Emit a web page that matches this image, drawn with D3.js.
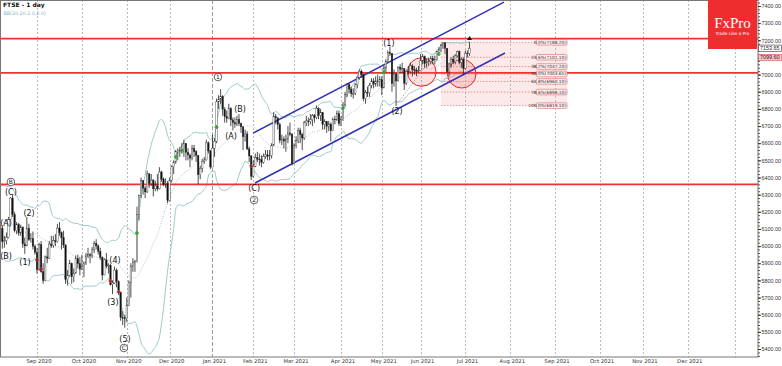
<!DOCTYPE html>
<html>
<head>
<meta charset="utf-8">
<script src="https://cdn.jsdelivr.net/npm/d3@7/dist/d3.min.js"></script>
<style>
body { margin: 0; background: #fff; }
svg { display: block; font-family: "DejaVu Sans", sans-serif; }
</style>
</head>
<body>
<div id="chart"></div>
<script>
// daily bars: [day, open, high, low, close]
var jul2020 = [
  [8,6190,6215,6140,6156],[9,6156,6170,6040,6050],[10,6050,6105,6030,6095],[13,6095,6190,6090,6176],
  [14,6176,6185,6110,6179],[15,6179,6300,6175,6292],[16,6292,6295,6220,6250],[17,6250,6300,6240,6290],
  [20,6290,6295,6230,6261],[21,6261,6320,6255,6269],[22,6269,6275,6190,6208],[23,6208,6240,6185,6211],
  [24,6211,6215,6100,6124],[27,6124,6140,6080,6104],[28,6104,6150,6090,6129],[29,6129,6150,6100,6132],
  [30,6132,6135,5970,5990],[31,5990,6010,5880,5898]
];
var aug2020 = [
  [3,5898,6050,5895,6032],[4,6032,6060,6000,6036],
  [5,6036,6135,6020,6104],[6,6104,6120,5985,6026],[7,6026,6060,5990,6032],[10,6032,6080,6010,6050],
  [11,6050,6170,6045,6154],[12,6154,6285,6150,6280],[13,6280,6300,6170,6185],[14,6185,6200,6080,6090],
  [17,6090,6140,6070,6127],[18,6127,6135,6060,6076],[19,6076,6125,6060,6111],[20,6111,6115,5990,6013],
  [21,6013,6050,5955,6001],[24,6001,6170,6000,6104],[25,6104,6130,6030,6037],[26,6037,6075,6020,6045],
  [27,6045,6085,5980,5999],[28,5999,6010,5950,5963]
];
var sep2020 = [
  [1,5963,5990,5840,5862],[2,5862,6020,5855,6009],[3,6009,6030,5845,5851],[4,5851,5900,5780,5799],
  [7,5799,5945,5795,5937],[8,5937,5990,5900,5930],[9,5930,6030,5925,6012],[10,6012,6060,5990,6003],
  [11,6003,6060,5990,6032],[14,6032,6070,6000,6026],[15,6026,6130,6020,6105],[16,6105,6140,6060,6078],
  [17,6078,6085,5980,6050],[18,6050,6090,5990,6007],[21,6007,6010,5780,5804],[22,5804,5860,5770,5829],
  [23,5829,5920,5820,5899],[24,5899,5905,5780,5822],[25,5822,5870,5790,5842],[28,5842,5945,5840,5927],
  [29,5927,5950,5870,5897],[30,5897,5935,5830,5866]
];
var oct2020 = [
  [1,5866,5950,5860,5880],[2,5880,5910,5820,5902],[5,5902,5960,5890,5942],[6,5942,5990,5930,5950],
  [7,5950,5960,5900,5946],[8,5946,5995,5930,5978],[9,5978,6030,5960,6016],[12,6016,6040,5980,6001],
  [13,6001,6010,5950,5969],[14,5969,5990,5920,5935],[15,5935,5940,5800,5832],[16,5832,5930,5830,5920],
  [19,5920,5960,5870,5884],[20,5884,5900,5840,5889],[21,5889,5895,5770,5776],[22,5776,5800,5720,5785],
  [23,5785,5880,5780,5860],[26,5860,5870,5760,5792],[27,5792,5800,5715,5729],[28,5729,5735,5565,5583],
  [29,5583,5620,5540,5582],[30,5582,5600,5525,5577]
];
var nov2020 = [
  [2,5577,5700,5560,5654],[3,5654,5800,5650,5786],[4,5786,5900,5700,5883],[5,5883,5930,5850,5906],
  [6,5906,5920,5850,5910],[9,5910,6230,5905,6186],[10,6186,6300,6150,6296],[11,6296,6400,6280,6382],
  [12,6382,6385,6300,6338],[13,6338,6350,6280,6316],[16,6316,6440,6310,6421],[17,6421,6425,6340,6365],
  [18,6365,6420,6350,6385],[19,6385,6390,6290,6334],[20,6334,6380,6320,6351],[23,6351,6420,6320,6334],
  [24,6334,6460,6330,6432],[25,6432,6440,6375,6391],[26,6391,6400,6350,6362],[27,6362,6395,6340,6367],
  [30,6367,6380,6250,6266]
];
var dec2020 = [
  [1,6266,6400,6260,6384],[2,6384,6470,6370,6463],[3,6463,6500,6420,6490],[4,6490,6560,6480,6550],
  [7,6550,6570,6500,6555],[8,6555,6580,6520,6559],[9,6559,6600,6540,6564],[10,6564,6620,6520,6599],
  [11,6599,6600,6500,6547],[14,6547,6570,6500,6531],[15,6531,6540,6460,6513],[16,6513,6590,6500,6570],
  [17,6570,6590,6520,6550],[18,6550,6560,6490,6529],[21,6529,6530,6360,6416],[22,6416,6470,6390,6454],
  [23,6454,6510,6430,6495],[24,6495,6520,6480,6502],[29,6502,6620,6500,6602],[30,6602,6610,6540,6555],
  [31,6555,6560,6450,6461]
];
var jan2021 = [
  [4,6461,6650,6460,6571],[5,6571,6630,6520,6612],[6,6612,6860,6600,6841],[7,6841,6880,6800,6857],
  [8,6857,6915,6830,6873],[11,6873,6880,6760,6798],[12,6798,6810,6720,6754],[13,6754,6790,6720,6745],
  [14,6745,6830,6740,6802],[15,6802,6810,6700,6736],[18,6736,6750,6675,6720],[19,6720,6750,6690,6712],
  [20,6712,6760,6700,6740],[21,6740,6770,6700,6715],[22,6715,6720,6660,6695],[25,6695,6700,6560,6638],
  [26,6638,6680,6610,6654],[27,6654,6670,6560,6567],[28,6567,6580,6490,6526],[29,6526,6530,6385,6407]
];
var feb2021 = [
  [1,6407,6500,6400,6466],[2,6466,6540,6460,6516],[3,6516,6550,6490,6507],[4,6507,6540,6470,6504],
  [5,6504,6530,6460,6489],[8,6489,6540,6480,6523],[9,6523,6560,6510,6532],[10,6532,6560,6500,6524],
  [11,6524,6560,6500,6528],[12,6528,6600,6510,6589],[15,6589,6780,6585,6756],[16,6756,6770,6710,6748],
  [17,6748,6750,6680,6710],[18,6710,6720,6600,6617],[19,6617,6650,6590,6624],[22,6624,6640,6570,6612],
  [23,6612,6650,6550,6625],[24,6625,6700,6600,6659],[25,6659,6720,6640,6652],[26,6652,6660,6470,6483]
];
var mar2021 = [
  [1,6483,6600,6480,6588],[2,6588,6640,6570,6614],[3,6614,6690,6600,6675],[4,6675,6690,6600,6651],
  [5,6651,6660,6560,6630],[8,6630,6730,6620,6719],[9,6719,6760,6700,6730],[10,6730,6750,6700,6725],
  [11,6725,6770,6710,6737],[12,6737,6770,6700,6761],[15,6761,6770,6720,6749],[16,6749,6820,6740,6803],
  [17,6803,6810,6740,6762],[18,6762,6800,6730,6779],[19,6779,6780,6680,6709],[22,6709,6740,6680,6726],
  [23,6726,6730,6660,6699],[24,6699,6730,6670,6712],[25,6712,6720,6610,6674],[26,6674,6750,6670,6740],
  [29,6740,6760,6710,6736],[30,6736,6790,6730,6772],[31,6772,6790,6700,6714]
];
var apr2021 = [
  [1,6714,6760,6700,6737],[6,6737,6840,6730,6823],[7,6823,6900,6810,6886],[8,6886,6950,6870,6942],
  [9,6942,6950,6890,6916],[12,6916,6930,6870,6890],[13,6890,6920,6860,6890],[14,6890,6950,6880,6940],
  [15,6940,6990,6920,6983],[16,6983,7030,6970,7020],[19,7020,7030,6980,7000],[20,7000,7005,6845,6860],
  [21,6860,6910,6830,6896],[22,6896,6930,6870,6895],[23,6895,6950,6870,6938],[26,6938,6980,6920,6963],
  [27,6963,6980,6920,6945],[28,6945,6990,6930,6963],[29,6963,7000,6930,6961],[30,6961,6990,6930,6970]
];
var may2021 = [
  [4,6970,6990,6880,6923],[5,6923,7050,6920,7039],[6,7039,7090,7010,7076],[7,7076,7140,7070,7130],
  [10,7130,7165,7110,7123],[11,7123,7125,6900,6948],[12,6948,7030,6930,7004],[13,7004,7010,6819,6963],
  [14,6963,7050,6960,7043],[17,7043,7060,7010,7032],[18,7032,7070,7010,7034],[19,7034,7040,6910,6950],
  [20,6950,7030,6940,7019],[21,7019,7050,7000,7018],[24,7018,7070,7010,7051],[25,7051,7060,6990,7029],
  [26,7029,7050,7000,7026],[27,7026,7040,6990,7020],[28,7020,7050,7010,7023]
];
var jun2021 = [
  [1,7023,7120,7020,7080],[2,7080,7120,7060,7108],[3,7108,7110,7040,7064],[4,7064,7090,7040,7069],
  [7,7069,7100,7050,7077],[8,7077,7110,7060,7095],[9,7095,7110,7060,7081],[10,7081,7110,7060,7088],
  [11,7088,7140,7080,7134],[14,7134,7160,7110,7147],[15,7147,7180,7130,7172],[16,7172,7188,7150,7185],
  [17,7185,7190,7120,7153],[18,7153,7155,7010,7017],[21,7017,7070,6990,7062],[22,7062,7100,7040,7090],
  [23,7090,7110,7060,7074],[24,7074,7120,7060,7109],[25,7109,7140,7100,7136],[28,7136,7140,7060,7072],
  [29,7072,7100,7040,7088],[30,7088,7100,7000,7037]
];
var jul2021 = [
  [1,7037,7140,7030,7125],[2,7125,7140,7100,7123],[5,7123,7190,7110,7153.65]
];

// first bar of each month on the time axis (trading-day index, Aug 5 2020 = 0)
var monthLabels = ["Sep 2020","Oct 2020","Nov 2020","Dec 2020","Jan 2021","Feb 2021","Mar 2021","Apr 2021",
  "May 2021","Jun 2021","Jul 2021","Aug 2021","Sep 2021","Oct 2021","Nov 2021","Dec 2021",""];
var monthStartBar = [18,40,62,83,104,124,144,167,187,206,228,250,272,294,315,337,360];

var hLevels = [7210, 7010, 6360];

// trend channel: [bar, price]
var channelUpper = [[123.9, 6659], [246.9, 7423]];
var channelLower = [[124.9, 6368], [247.4, 7126]];

var circleZones = [[206.6, 7015], [226.2, 7005]];

var fibLabels = ["0.0%","23.6%","38.2%","50.0%","61.8%","78.6%","100.0%"];
var fibValues = [7188.20, 7101.10, 7047.20, 7003.65, 6960.10, 6898.10, 6819.10];
var fibBase = [[194, 6819.1], [217, 7188.2]];
var fibBox = [216, 278];

var waveText = ["B","(C)","(A)","(B)","(2)","(1)","(4)","(3)","(5)","C","1","(B)","(A)","(C)","2","(1)","(2)"];
var waveBar  = [5.2,5.2,2.8,2.8,14.1,12.1,56.2,55.2,61.1,60.6,106.7,117.5,113.1,124.4,124.4,190.5,194.5];
var wavePrice= [6374,6315,6135,5942,6193,5907,5919,5674,5458,5406,6986,6799,6642,6339,6269,7184,6788];
var waveCircled = [1,0,0,0,0,0,0,0,0,1,1,0,0,0,1,0,0];

var upSignals = [[67,6076],[86,6520],[89,6555],[106,6694],[168,6805],[188,7015],[215,7120]];
var downSignals = [[18,5919],[20,5866],[54,5796],[58,5732],[123,6467]];

var lastPrice = 7153.65;
var lineTag = 7099.60;

var priceTicks = d3.range(5400, 7401, 100);

// ---------------------------------------------------------------
var W = 782, H = 366, plotR = 758, plotB = 357;
var months = [jul2020, aug2020, sep2020, oct2020, nov2020, dec2020, jan2021, feb2021, mar2021, apr2021, may2021, jun2021, jul2021];
var rows = [].concat.apply([], months);
var offset = jul2020.length + 2; // bars before Aug 5 2020
var bars = rows.map(function(r, k) {
  return {i: k - offset, o: r[1], h: r[2], l: r[3], c: r[4]};
});

// bollinger 20, 2
var bb = [];
for (var k = 19; k < bars.length; k++) {
  var win = bars.slice(k - 19, k + 1).map(function(d) { return d.c; });
  var m = d3.mean(win);
  var sd = Math.sqrt(d3.mean(win, function(v) { return (v - m) * (v - m); }));
  bb.push({i: bars[k].i, mid: m, up: m + 2 * sd, lo: m - 2 * sd});
}

var x = d3.scaleLinear().domain([0, 360]).range([0.3, 0.3 + 360 * 2.04]);
var y = d3.scaleLinear().domain([5400, 7400]).range([349, 6]);

var svg = d3.select("#chart").append("svg")
  .attr("width", W)
  .attr("height", H);

svg.append("defs").append("clipPath").attr("id", "clip")
  .append("rect").attr("x", 0).attr("y", 0).attr("width", plotR).attr("height", plotB);

var plot = svg.append("g").attr("clip-path", "url(#clip)");

// month grid
plot.selectAll(".grid").data(monthStartBar).enter().append("line")
  .attr("x1", function(d) { return Math.round(x(d)) + 0.5; })
  .attr("x2", function(d) { return Math.round(x(d)) + 0.5; })
  .attr("y1", 0).attr("y2", plotB)
  .attr("stroke", function(d, i) { return monthLabels[i] == "Jan 2021" ? "#888" : "#aaa"; })
  .attr("stroke-width", 0.8)
  .attr("stroke-dasharray", function(d, i) { return monthLabels[i] == "Jan 2021" ? "4,2" : "2,2"; });

// fib box
var fibTop = y(fibValues[0]), fibBot = y(fibValues[fibValues.length - 1]);
plot.append("rect")
  .attr("x", x(fibBox[0])).attr("y", fibTop)
  .attr("width", x(fibBox[1]) - x(fibBox[0])).attr("height", fibBot - fibTop)
  .attr("fill", "rgba(240,160,160,0.22)");
plot.selectAll(".fib").data(fibValues).enter().append("line")
  .attr("x1", x(fibBox[0])).attr("x2", x(fibBox[1]))
  .attr("y1", function(d) { return y(d); }).attr("y2", function(d) { return y(d); })
  .attr("stroke", "#e26a6a").attr("stroke-width", 0.7).attr("stroke-dasharray", "1.5,1.5");

// bollinger bands
var lineUp = d3.line().x(function(d) { return x(d.i); }).y(function(d) { return y(d.up); }).curve(d3.curveMonotoneX);
var lineLo = d3.line().x(function(d) { return x(d.i); }).y(function(d) { return y(d.lo); }).curve(d3.curveMonotoneX);
var lineMid = d3.line().x(function(d) { return x(d.i); }).y(function(d) { return y(d.mid); }).curve(d3.curveMonotoneX);
plot.append("path").attr("d", lineUp(bb)).attr("fill", "none").attr("stroke", "#8fc4c4").attr("stroke-width", 0.9);
plot.append("path").attr("d", lineLo(bb)).attr("fill", "none").attr("stroke", "#8fc4c4").attr("stroke-width", 0.9);
plot.append("path").attr("d", lineMid(bb)).attr("fill", "none").attr("stroke", "#8aa8b0")
  .attr("stroke-width", 0.7).attr("stroke-dasharray", "1,1.5");

// horizontal levels
plot.selectAll(".lvl").data(hLevels).enter().append("line")
  .attr("x1", 0).attr("x2", plotR)
  .attr("y1", function(d) { return y(d); }).attr("y2", function(d) { return y(d); })
  .attr("stroke", "#f23030").attr("stroke-width", 1.6);

// circles
plot.selectAll(".zone").data(circleZones).enter().append("circle")
  .attr("cx", function(d) { return x(d[0]); })
  .attr("cy", function(d) { return y(d[1]); })
  .attr("r", 14.3)
  .attr("fill", "rgba(245,110,110,0.22)")
  .attr("stroke", "#e8262b").attr("stroke-width", 1);

// fib base line
plot.append("line")
  .attr("x1", x(fibBase[0][0])).attr("y1", y(fibBase[0][1]))
  .attr("x2", x(fibBase[1][0])).attr("y2", y(fibBase[1][1]))
  .attr("stroke", "#777").attr("stroke-width", 0.6).attr("stroke-dasharray", "1.5,1.5");

// channel
[channelUpper, channelLower].forEach(function(c) {
  plot.append("line")
    .attr("x1", x(c[0][0])).attr("y1", y(c[0][1]))
    .attr("x2", x(c[1][0])).attr("y2", y(c[1][1]))
    .attr("stroke", "#3232b4").attr("stroke-width", 1.5);
});

// candles
plot.selectAll(".wick").data(bars).enter().append("line")
  .attr("x1", function(d) { return x(d.i); }).attr("x2", function(d) { return x(d.i); })
  .attr("y1", function(d) { return y(d.h); }).attr("y2", function(d) { return y(d.l); })
  .attr("stroke", "#222").attr("stroke-width", 0.8);
plot.selectAll(".body").data(bars).enter().append("rect")
  .attr("x", function(d) { return x(d.i) - 0.75; })
  .attr("width", 1.5)
  .attr("y", function(d) { return y(Math.max(d.o, d.c)); })
  .attr("height", function(d) { return Math.max(0.6, Math.abs(y(d.o) - y(d.c))); })
  .attr("fill", function(d) { return d.c >= d.o ? "#fff" : "#111"; })
  .attr("stroke", "#333").attr("stroke-width", 0.4);

// signal marks
function cross(sel, data, col) {
  sel.selectAll(null).data(data).enter().append("path")
    .attr("d", function(d) {
      var cx = x(d[0]), cy = y(d[1]);
      return "M" + (cx - 2) + "," + cy + "H" + (cx + 2) + "M" + cx + "," + (cy - 2) + "V" + (cy + 2);
    })
    .attr("stroke", col).attr("stroke-width", 1.2);
}
cross(plot, upSignals, "#1fa81f");
cross(plot, downSignals, "#c81e1e");

// last bar arrow
var last = bars[bars.length - 1];
plot.append("path")
  .attr("d", "M" + x(last.i) + "," + (y(last.h) - 6) + "l-2.5,4h5z")
  .attr("fill", "#111");

// wave labels
var waves = waveText.map(function(t, k) { return {t: t, b: waveBar[k], p: wavePrice[k], c: waveCircled[k]}; });
var wg = plot.selectAll(".wave").data(waves).enter().append("g")
  .attr("transform", function(d) { return "translate(" + x(d.b) + "," + y(d.p) + ")"; });
wg.filter(function(d) { return d.c; }).append("circle")
  .attr("r", 3.8).attr("fill", "#fff").attr("stroke", "#222").attr("stroke-width", 0.7);
wg.append("text")
  .attr("text-anchor", "middle").attr("dy", "0.35em")
  .attr("font-size", function(d) { return d.c ? 6 : 8; })
  .attr("fill", "#111")
  .text(function(d) { return d.t; });

// fib labels
var fl = plot.selectAll(".fibl").data(fibValues).enter().append("g")
  .attr("transform", function(d) { return "translate(" + x(fibBox[1]) + "," + y(d) + ")"; });
fl.append("rect")
  .attr("x", -31).attr("y", -2.8).attr("width", 30.5).attr("height", 5.6).attr("rx", 1)
  .attr("fill", "#fdf0f0").attr("stroke", "#d86a6a").attr("stroke-width", 0.6);
fl.append("text")
  .attr("x", -1.5).attr("dy", "0.35em").attr("text-anchor", "end")
  .attr("font-size", 4.3).attr("fill", "#333")
  .text(function(d, k) { return fibLabels[k] + "(" + d.toFixed(2) + ")"; });

// frame
svg.append("rect").attr("x", 0.5).attr("y", 0.5).attr("width", plotR - 0.5).attr("height", plotB - 0.5)
  .attr("fill", "none").attr("stroke", "#777").attr("stroke-width", 1);

// right axis
var minor = svg.append("g").attr("transform", "translate(" + plotR + ",0)")
  .call(d3.axisRight(y).tickValues(d3.range(5360, 7441, 20)).tickSize(2).tickFormat(""));
minor.select(".domain").remove();
minor.selectAll("line").attr("stroke", "#555");
var ax = svg.append("g").attr("transform", "translate(" + plotR + ",0)")
  .call(d3.axisRight(y).tickValues(priceTicks).tickSize(3).tickPadding(0.5).tickFormat(d3.format(".2f")));
ax.select(".domain").remove();
ax.selectAll("line").attr("stroke", "#333");
ax.selectAll("text").attr("font-size", 5.4).attr("fill", "#333").attr("font-family", "Liberation Sans, Arial, sans-serif");

// price tags
var tags = [[lastPrice, "#fff", "#333"], [lineTag, "#f6c8c8", "#d05050"]];
tags.forEach(function(t) {
  var gy = y(t[0]);
  svg.append("rect").attr("x", plotR + 0.5).attr("y", gy - 3.2).attr("width", 23).attr("height", 6.4)
    .attr("fill", t[1]).attr("stroke", t[2]).attr("stroke-width", 0.6);
  svg.append("text").attr("x", plotR + 2).attr("y", gy).attr("dy", "0.35em")
    .attr("font-family", "Liberation Sans, Arial, sans-serif")
    .attr("font-size", 5.4).attr("fill", "#222").text(t[0].toFixed(2));
});

// bottom axis labels
svg.selectAll(".mlab").data(monthStartBar).enter().append("text")
  .attr("x", function(d) { return x(d) + 2; })
  .attr("y", 362.5)
  .attr("text-anchor", "middle")
  .attr("font-size", 5.3).attr("fill", "#333")
  .text(function(d, i) { return monthLabels[i]; });

// title
svg.append("text").attr("x", 3).attr("y", 7).attr("font-size", 6).attr("font-weight", "bold")
  .attr("fill", "#111").text("FTSE - 1 day");
svg.append("text").attr("x", 3.5).attr("y", 14.5).attr("font-size", 4.8)
  .attr("fill", "#7fb5be").text("BB(20,20,2.0,2.0)");

// logo
svg.append("rect").attr("x", 708).attr("y", 0).attr("width", 49).attr("height", 49).attr("fill", "#ee2d2f");
svg.append("text").attr("x", 732.5).attr("y", 28).attr("text-anchor", "middle")
  .attr("font-family", "Liberation Serif, DejaVu Serif, serif").attr("font-size", 15)
  .attr("fill", "#fff").text("FxPro");
svg.append("text").attr("x", 732.5).attr("y", 34.5).attr("text-anchor", "middle")
  .attr("font-size", 4.3).attr("fill", "#fff").text("Trade Like a Pro");
</script>
</body>
</html>
